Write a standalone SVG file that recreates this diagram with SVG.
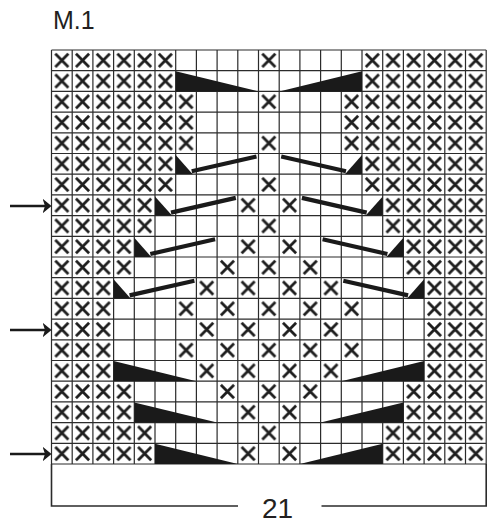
<svg xmlns="http://www.w3.org/2000/svg" width="500" height="525" viewBox="0 0 500 525">
<style>
.lbl{font-family:"Liberation Sans",Arial,sans-serif;fill:#231f20}
.grid{fill:none;stroke:#2b2b2b;stroke-width:1.2}
.xm{stroke:#1e1e1e;stroke-width:2.8;stroke-linecap:butt;fill:none}
.wedge{fill:#1a1a1a}
.bar{stroke:#1a1a1a;stroke-width:4.2;stroke-linecap:butt}
.arr{stroke:#1a1a1a;stroke-width:2.6;fill:none}
.brk{fill:none;stroke:#2b2b2b;stroke-width:1.6}
</style>
<defs>
<pattern id="xp" patternUnits="userSpaceOnUse" x="51.5" y="50" width="20.7" height="20.7">
<path class="xm" d="M3.8,3.8L16.9,16.9M16.9,3.8L3.8,16.9"/>
</pattern>
<pattern id="xo" patternUnits="userSpaceOnUse" x="51.5" y="50" width="41.4" height="20.7">
<path class="xm" d="M3.8,3.8L16.9,16.9M16.9,3.8L3.8,16.9"/>
</pattern>
<pattern id="xe" patternUnits="userSpaceOnUse" x="72.2" y="50" width="41.4" height="20.7">
<path class="xm" d="M3.8,3.8L16.9,16.9M16.9,3.8L3.8,16.9"/>
</pattern>
<marker id="ah" markerUnits="userSpaceOnUse" markerWidth="10" markerHeight="16" refX="6.5" refY="8" orient="auto">
<path d="M0,0.5L9,8L0,15.5L2.5,8Z" fill="#1a1a1a"/>
</marker>
</defs>
<rect width="500" height="525" fill="#fff"/>
<text class="lbl" x="53" y="28.5" font-size="25">M.1</text>

<g id="chart-grid">
<rect x="51.5" y="50" width="434.7" height="414" fill="#fff"/>
<path class="grid" d="M51.5,50V464M72.2,50V464M92.9,50V464M113.6,50V464M134.3,50V464M155,50V464M175.7,50V464M196.4,50V464M217.1,50V464M237.8,50V464M258.5,50V464M279.2,50V464M299.9,50V464M320.6,50V464M341.3,50V464M362,50V464M382.7,50V464M403.4,50V464M424.1,50V464M444.8,50V464M465.5,50V464M486.2,50V464M51.5,50H486.2M51.5,70.7H486.2M51.5,91.4H486.2M51.5,112.1H486.2M51.5,132.8H486.2M51.5,153.5H486.2M51.5,174.2H486.2M51.5,194.9H486.2M51.5,215.6H486.2M51.5,236.3H486.2M51.5,257H486.2M51.5,277.7H486.2M51.5,298.4H486.2M51.5,319.1H486.2M51.5,339.8H486.2M51.5,360.5H486.2M51.5,381.2H486.2M51.5,401.9H486.2M51.5,422.6H486.2M51.5,443.3H486.2M51.5,464H486.2"/>
</g>

<g id="x-stitches">
<!-- row 1 -->
<rect x="51.5" y="50" width="124.2" height="20.7" fill="url(#xp)"/>
<rect x="258.5" y="50" width="20.7" height="20.7" fill="url(#xp)"/>
<rect x="362" y="50" width="124.2" height="20.7" fill="url(#xp)"/>
<!-- row 2 -->
<rect x="51.5" y="70.7" width="124.2" height="20.7" fill="url(#xp)"/>
<rect x="362" y="70.7" width="124.2" height="20.7" fill="url(#xp)"/>
<!-- row 3 -->
<rect x="51.5" y="91.4" width="144.9" height="20.7" fill="url(#xp)"/>
<rect x="258.5" y="91.4" width="20.7" height="20.7" fill="url(#xp)"/>
<rect x="341.3" y="91.4" width="144.9" height="20.7" fill="url(#xp)"/>
<!-- row 4 -->
<rect x="51.5" y="112.1" width="144.9" height="20.7" fill="url(#xp)"/>
<rect x="341.3" y="112.1" width="144.9" height="20.7" fill="url(#xp)"/>
<!-- row 5 -->
<rect x="51.5" y="132.8" width="144.9" height="20.7" fill="url(#xp)"/>
<rect x="258.5" y="132.8" width="20.7" height="20.7" fill="url(#xp)"/>
<rect x="341.3" y="132.8" width="144.9" height="20.7" fill="url(#xp)"/>
<!-- row 6 -->
<rect x="51.5" y="153.5" width="124.2" height="20.7" fill="url(#xp)"/>
<rect x="362" y="153.5" width="124.2" height="20.7" fill="url(#xp)"/>
<!-- row 7 -->
<rect x="51.5" y="174.2" width="124.2" height="20.7" fill="url(#xp)"/>
<rect x="258.5" y="174.2" width="20.7" height="20.7" fill="url(#xp)"/>
<rect x="362" y="174.2" width="124.2" height="20.7" fill="url(#xp)"/>
<!-- row 8 -->
<rect x="51.5" y="194.9" width="103.5" height="20.7" fill="url(#xp)"/>
<rect x="237.8" y="194.9" width="62.1" height="20.7" fill="url(#xe)"/>
<rect x="382.7" y="194.9" width="103.5" height="20.7" fill="url(#xp)"/>
<!-- row 9 -->
<rect x="51.5" y="215.6" width="103.5" height="20.7" fill="url(#xp)"/>
<rect x="258.5" y="215.6" width="20.7" height="20.7" fill="url(#xp)"/>
<rect x="382.7" y="215.6" width="103.5" height="20.7" fill="url(#xp)"/>
<!-- row 10 -->
<rect x="51.5" y="236.3" width="82.8" height="20.7" fill="url(#xp)"/>
<rect x="237.8" y="236.3" width="62.1" height="20.7" fill="url(#xe)"/>
<rect x="403.4" y="236.3" width="82.8" height="20.7" fill="url(#xp)"/>
<!-- row 11 -->
<rect x="51.5" y="257" width="82.8" height="20.7" fill="url(#xp)"/>
<rect x="217.1" y="257" width="103.5" height="20.7" fill="url(#xo)"/>
<rect x="403.4" y="257" width="82.8" height="20.7" fill="url(#xp)"/>
<!-- row 12 -->
<rect x="51.5" y="277.7" width="62.1" height="20.7" fill="url(#xp)"/>
<rect x="196.4" y="277.7" width="144.9" height="20.7" fill="url(#xe)"/>
<rect x="424.1" y="277.7" width="62.1" height="20.7" fill="url(#xp)"/>
<!-- row 13 -->
<rect x="51.5" y="298.4" width="62.1" height="20.7" fill="url(#xp)"/>
<rect x="175.7" y="298.4" width="186.3" height="20.7" fill="url(#xo)"/>
<rect x="424.1" y="298.4" width="62.1" height="20.7" fill="url(#xp)"/>
<!-- row 14 -->
<rect x="51.5" y="319.1" width="62.1" height="20.7" fill="url(#xp)"/>
<rect x="196.4" y="319.1" width="144.9" height="20.7" fill="url(#xe)"/>
<rect x="424.1" y="319.1" width="62.1" height="20.7" fill="url(#xp)"/>
<!-- row 15 -->
<rect x="51.5" y="339.8" width="62.1" height="20.7" fill="url(#xp)"/>
<rect x="175.7" y="339.8" width="186.3" height="20.7" fill="url(#xo)"/>
<rect x="424.1" y="339.8" width="62.1" height="20.7" fill="url(#xp)"/>
<!-- row 16 -->
<rect x="51.5" y="360.5" width="62.1" height="20.7" fill="url(#xp)"/>
<rect x="196.4" y="360.5" width="144.9" height="20.7" fill="url(#xe)"/>
<rect x="424.1" y="360.5" width="62.1" height="20.7" fill="url(#xp)"/>
<!-- row 17 -->
<rect x="51.5" y="381.2" width="82.8" height="20.7" fill="url(#xp)"/>
<rect x="217.1" y="381.2" width="103.5" height="20.7" fill="url(#xo)"/>
<rect x="403.4" y="381.2" width="82.8" height="20.7" fill="url(#xp)"/>
<!-- row 18 -->
<rect x="51.5" y="401.9" width="82.8" height="20.7" fill="url(#xp)"/>
<rect x="237.8" y="401.9" width="62.1" height="20.7" fill="url(#xe)"/>
<rect x="403.4" y="401.9" width="82.8" height="20.7" fill="url(#xp)"/>
<!-- row 19 -->
<rect x="51.5" y="422.6" width="103.5" height="20.7" fill="url(#xp)"/>
<rect x="258.5" y="422.6" width="20.7" height="20.7" fill="url(#xp)"/>
<rect x="382.7" y="422.6" width="103.5" height="20.7" fill="url(#xp)"/>
<!-- row 20 -->
<rect x="51.5" y="443.3" width="103.5" height="20.7" fill="url(#xp)"/>
<rect x="237.8" y="443.3" width="62.1" height="20.7" fill="url(#xe)"/>
<rect x="382.7" y="443.3" width="103.5" height="20.7" fill="url(#xp)"/>
</g>

<g id="decreases">
<!-- big wedges -->
<polygon class="wedge" points="175.7,71.2 175.7,91.4 258.5,91.4"/>
<polygon class="wedge" points="279.2,91.4 362,71.2 362,91.4"/>
<polygon class="wedge" points="113.6,361 113.6,381.2 196.4,381.2"/>
<polygon class="wedge" points="341.3,381.2 424.1,361 424.1,381.2"/>
<polygon class="wedge" points="134.3,402.4 134.3,422.6 217.1,422.6"/>
<polygon class="wedge" points="320.6,422.6 403.4,402.4 403.4,422.6"/>
<polygon class="wedge" points="155,443.8 155,464 237.8,464"/>
<polygon class="wedge" points="299.9,464 382.7,443.8 382.7,464"/>
<!-- small triangles with bars -->
<polygon class="wedge" points="175.7,155 175.7,174.2 192.7,174.2"/>
<line class="bar" x1="191.7" y1="171.2" x2="256.5" y2="156.5"/>
<polygon class="wedge" points="362,155 362,174.2 345,174.2"/>
<line class="bar" x1="346" y1="171.2" x2="281.2" y2="156.5"/>
<polygon class="wedge" points="155,196.4 155,215.6 172,215.6"/>
<line class="bar" x1="171" y1="212.6" x2="235.8" y2="197.9"/>
<polygon class="wedge" points="382.7,196.4 382.7,215.6 365.7,215.6"/>
<line class="bar" x1="366.7" y1="212.6" x2="301.9" y2="197.9"/>
<polygon class="wedge" points="134.3,237.8 134.3,257 151.3,257"/>
<line class="bar" x1="150.3" y1="254" x2="215.1" y2="239.3"/>
<polygon class="wedge" points="403.4,237.8 403.4,257 386.4,257"/>
<line class="bar" x1="387.4" y1="254" x2="322.6" y2="239.3"/>
<polygon class="wedge" points="113.6,279.2 113.6,298.4 130.6,298.4"/>
<line class="bar" x1="129.6" y1="295.4" x2="194.4" y2="280.7"/>
<polygon class="wedge" points="424.1,279.2 424.1,298.4 407.1,298.4"/>
<line class="bar" x1="408.1" y1="295.4" x2="343.3" y2="280.7"/>
</g>

<g id="connectors">
<line class="arr" x1="10" y1="206" x2="49" y2="206" marker-end="url(#ah)"/>
<line class="arr" x1="10" y1="330" x2="49" y2="330" marker-end="url(#ah)"/>
<line class="arr" x1="10" y1="454" x2="49" y2="454" marker-end="url(#ah)"/>
</g>

<g id="width-bracket">
<path class="brk" d="M51.5,464V506H238M321.5,506H486.2V464"/>
<text class="lbl" x="277.5" y="518" font-size="28" text-anchor="middle">21</text>
</g>
</svg>
